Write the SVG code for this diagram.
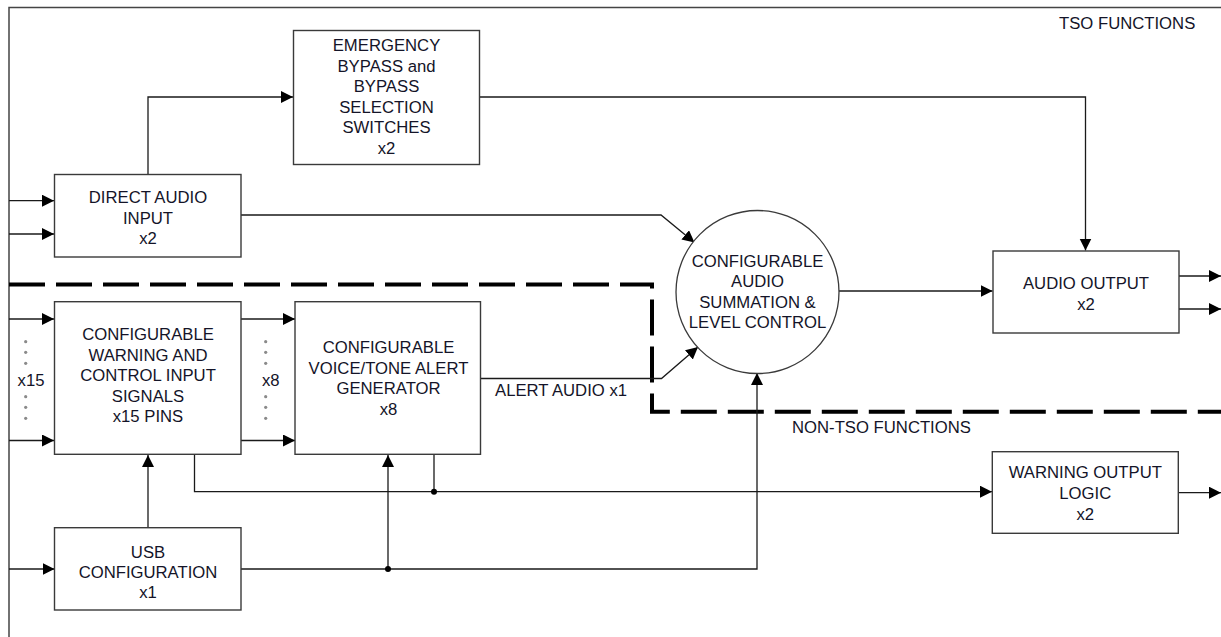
<svg xmlns="http://www.w3.org/2000/svg" width="1221" height="637" viewBox="0 0 1221 637">
<defs>
<marker id="arr" markerUnits="userSpaceOnUse" markerWidth="13" markerHeight="13" refX="12" refY="6" orient="auto"><path d="M0,0 L12,6 L0,12 z" fill="#000"/></marker>
<style>
.box{fill:#fff;stroke:#3a3a3a;stroke-width:1.4}
.t{font-family:"Liberation Sans",Arial,sans-serif;font-size:16.7px;fill:#141428;text-anchor:middle}
.tl{font-family:"Liberation Sans",Arial,sans-serif;font-size:16.7px;fill:#141428}
.c{fill:none;stroke:#1a1a1a;stroke-width:1.3}
.a{marker-end:url(#arr)}
.dot{fill:#8a8a8a}
</style>
</defs>
<rect width="1221" height="637" fill="#fff"/>
<g id="frame">
<path d="M9 637 V7.5 H1221" fill="none" stroke="#444" stroke-width="1.5"/>
<text class="tl" x="1059" y="29">TSO FUNCTIONS</text>
<path d="M9 284.5 H652 V411.7 H1221" fill="none" stroke="#000" stroke-width="4" stroke-dasharray="36 11"/>
<text class="tl" x="792" y="433">NON-TSO FUNCTIONS</text>
</g>
<g id="connectors">
<path class="c a" d="M9 200.7 H54"/>
<path class="c a" d="M9 234 H54"/>
<path class="c a" d="M148 174 V97 H293"/>
<path class="c a" d="M479.5 97 H1085.5 V250.5"/>
<path class="c a" d="M241 215 H661 L694.5 242.5"/>
<path class="c a" d="M839 291 H992.5"/>
<path class="c a" d="M1179 276 H1221"/>
<path class="c a" d="M1179 309 H1221"/>
<path class="c a" d="M9 319 H54"/>
<path class="c a" d="M9 440.5 H54"/>
<path class="c a" d="M241 319 H295"/>
<path class="c a" d="M241 440.5 H295"/>
<path class="c a" d="M480.5 378.5 H661.5 L698 347"/>
<path class="c a" d="M194.5 455 V491.7 H992"/>
<path class="c" d="M434 455 V491.7"/>
<path class="c a" d="M1178.5 492.7 H1221"/>
<path class="c a" d="M9 569 H54.5"/>
<path class="c a" d="M148 527.7 V455"/>
<path class="c a" d="M241 569 H757 V373"/>
<path class="c a" d="M388 569 V455"/>
<circle cx="434" cy="491.7" r="3" fill="#000"/>
<circle cx="388" cy="569" r="3" fill="#000"/>
<text class="tl" x="495" y="396">ALERT AUDIO x1</text>
</g>
<g id="direct-audio">
<rect class="box" x="54.5" y="174.5" width="186.5" height="82.5"/>
<text class="t" x="148" y="203">DIRECT AUDIO</text>
<text class="t" x="148" y="223.5">INPUT</text>
<text class="t" x="148" y="244">x2</text>
</g>
<g id="emergency">
<rect class="box" x="293.5" y="30.5" width="186" height="134"/>
<text class="t" x="386.5" y="51">EMERGENCY</text>
<text class="t" x="386.5" y="71.6">BYPASS and</text>
<text class="t" x="386.5" y="92.2">BYPASS</text>
<text class="t" x="386.5" y="112.8">SELECTION</text>
<text class="t" x="386.5" y="133.4">SWITCHES</text>
<text class="t" x="386.5" y="154">x2</text>
</g>
<g id="summation">
<circle cx="757.5" cy="292" r="81.5" fill="#fff" stroke="#3a3a3a" stroke-width="1.3"/>
<text class="t" x="757.5" y="267">CONFIGURABLE</text>
<text class="t" x="757.5" y="287.3">AUDIO</text>
<text class="t" x="757.5" y="307.6">SUMMATION &amp;</text>
<text class="t" x="757.5" y="328">LEVEL CONTROL</text>
</g>
<g id="audio-output">
<rect class="box" x="993" y="251" width="186" height="82"/>
<text class="t" x="1086" y="289">AUDIO OUTPUT</text>
<text class="t" x="1086" y="309.5">x2</text>
</g>
<g id="warning-input">
<rect class="box" x="54.5" y="301.7" width="186.5" height="152.6"/>
<text class="t" x="148" y="340">CONFIGURABLE</text>
<text class="t" x="148" y="360.5">WARNING AND</text>
<text class="t" x="148" y="381">CONTROL INPUT</text>
<text class="t" x="148" y="401.5">SIGNALS</text>
<text class="t" x="148" y="422">x15 PINS</text>
<circle class="dot" cx="25.7" cy="341.7" r="1.6"/>
<circle class="dot" cx="25.7" cy="352.3" r="1.6"/>
<circle class="dot" cx="25.7" cy="363.3" r="1.6"/>
<text class="t" x="31" y="386">x15</text>
<circle class="dot" cx="25.7" cy="396.7" r="1.6"/>
<circle class="dot" cx="25.7" cy="407.3" r="1.6"/>
<circle class="dot" cx="25.7" cy="418.3" r="1.6"/>
</g>
<g id="voice-tone">
<rect class="box" x="295" y="301.7" width="185.5" height="152.6"/>
<text class="t" x="388.5" y="353">CONFIGURABLE</text>
<text class="t" x="388.5" y="373.5">VOICE/TONE ALERT</text>
<text class="t" x="388.5" y="394">GENERATOR</text>
<text class="t" x="388.5" y="414.5">x8</text>
<circle class="dot" cx="265.7" cy="341.7" r="1.6"/>
<circle class="dot" cx="265.7" cy="352.3" r="1.6"/>
<circle class="dot" cx="265.7" cy="363.3" r="1.6"/>
<text class="t" x="270.7" y="386">x8</text>
<circle class="dot" cx="265.7" cy="396.7" r="1.6"/>
<circle class="dot" cx="265.7" cy="407.3" r="1.6"/>
<circle class="dot" cx="265.7" cy="418.3" r="1.6"/>
</g>
<g id="usb">
<rect class="box" x="54.5" y="527.7" width="186.5" height="82.3"/>
<text class="t" x="148" y="558">USB</text>
<text class="t" x="148" y="578">CONFIGURATION</text>
<text class="t" x="148" y="598">x1</text>
</g>
<g id="warning-output">
<rect class="box" x="992.3" y="451.7" width="186" height="81.6"/>
<text class="t" x="1085.3" y="478">WARNING OUTPUT</text>
<text class="t" x="1085.3" y="499">LOGIC</text>
<text class="t" x="1085.3" y="520">x2</text>
</g>
</svg>
